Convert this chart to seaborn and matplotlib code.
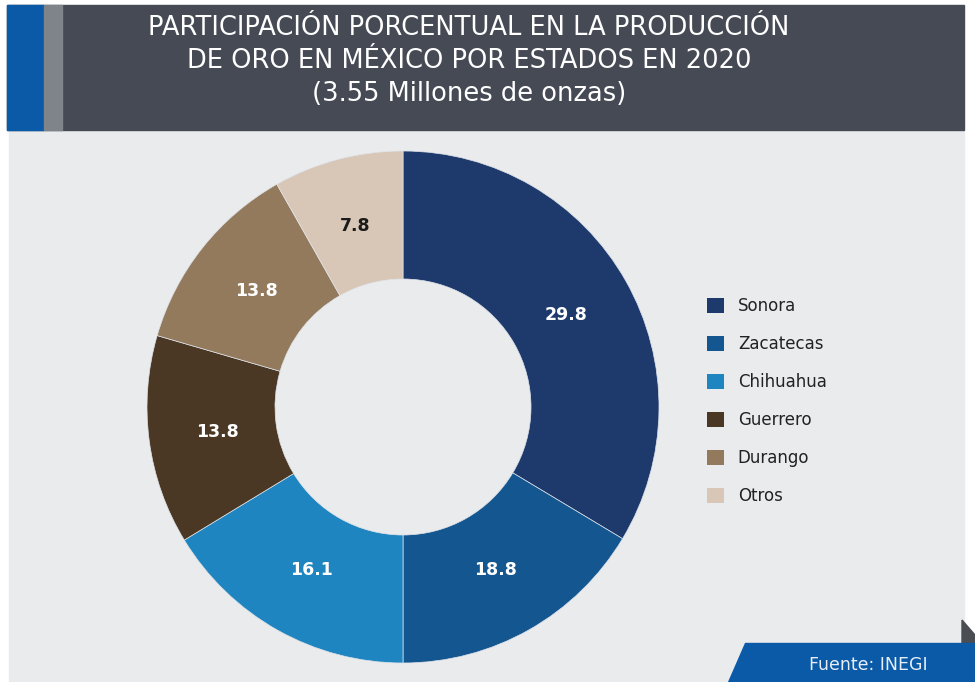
import numpy as np
import seaborn as sns
import matplotlib.pyplot as plt
from matplotlib.patches import Rectangle, Polygon, Patch

# Data
estados = ['Sonora', 'Zacatecas', 'Chihuahua', 'Guerrero', 'Durango', 'Otros']
# printed labels
etiquetas = ['29.8', '18.8', '16.1', '13.8', '13.8', '7.8']
# slice shares as drawn in the picture (measured from the wedge angles)
participacion = [33.6, 16.4, 16.3, 13.2, 12.3, 8.2]
colores = ['#1e3a6d', '#14568f', '#1e85c0', '#4b3824', '#937a5c', '#d8c7b6']
color_texto = ['white', 'white', 'white', 'white', 'white', '#1a1a1a']

sns.set_theme(style='white')
plt.rcParams['font.family'] = ['DejaVu Sans']

W, H = 975, 682
fig = plt.figure(figsize=(W / 100, H / 100), dpi=100)
fig.patch.set_facecolor('white')

# background panels (figure pixel coords, y from top)
def px_rect(x0, y0, x1, y1, color, z=-2):
    fig.patches.append(Rectangle((x0 / W, 1 - y1 / H), (x1 - x0) / W, (y1 - y0) / H,
                                 transform=fig.transFigure, color=color, zorder=z))

px_rect(9, 130, 964, 682, '#eaebed')
px_rect(7, 5, 964, 130, '#464a55')
px_rect(7, 5, 44, 130, '#0a5aa8', -1)
px_rect(44, 5, 62, 130, '#7e8489', -1)

# dark corner fold and source band
fig.patches.append(Polygon([(962 / W, 1 - 620 / H), (975 / W, 1 - 635 / H), (975 / W, 1 - 643 / H),
                            (962 / W, 1 - 643 / H)],
                           closed=True, transform=fig.transFigure, color='#4a4d52', zorder=-1))
fig.patches.append(Polygon([(745 / W, 1 - 643 / H), (975 / W, 1 - 643 / H), (975 / W, 0),
                            (728 / W, 0)], closed=True, transform=fig.transFigure,
                           color='#0a5aa8', zorder=-1))
fig.text(868 / W, 1 - 665 / H, 'Fuente: INEGI', ha='center', va='center',
         color='#e8eef6', fontsize=12.5)

fig.text(469 / W, 1 - 61 / H,
         'PARTICIPACIÓN PORCENTUAL EN LA PRODUCCIÓN\nDE ORO EN MÉXICO POR ESTADOS EN 2020\n(3.55 Millones de onzas)',
         ha='center', va='center', color='white', fontsize=18.5, linespacing=1.33)

# donut
cx, cy, r = 403, 407, 256
ax = fig.add_axes([(cx - r) / W, (H - cy - r) / H, 2 * r / W, 2 * r / H])
ax.set_zorder(2)
wedges, _ = ax.pie(participacion, colors=sns.color_palette(colores), startangle=90,
                   counterclock=False, radius=1,
                   wedgeprops=dict(width=0.5, edgecolor='#dfe3ea', linewidth=0.5))
for w, lab, tc in zip(wedges, etiquetas, color_texto):
    ang = np.deg2rad((w.theta1 + w.theta2) / 2)
    ax.text(0.73 * np.cos(ang), 0.73 * np.sin(ang), lab, ha='center', va='center',
            color=tc, fontsize=12.5, fontweight='bold')
ax.set_xlim(-1, 1)
ax.set_ylim(-1, 1)
ax.set_aspect('equal')
ax.axis('off')

handles = [Patch(facecolor=c, edgecolor='none') for c in colores]
fig.legend(handles, estados, loc='upper left', bbox_to_anchor=(692 / W, 1 - 282 / H),
           frameon=False, fontsize=12, handlelength=1.0, handleheight=1.0,
           labelspacing=1.2, handletextpad=0.85, labelcolor='#222222')

fig.savefig('out.png', dpi=100, facecolor=fig.get_facecolor())
